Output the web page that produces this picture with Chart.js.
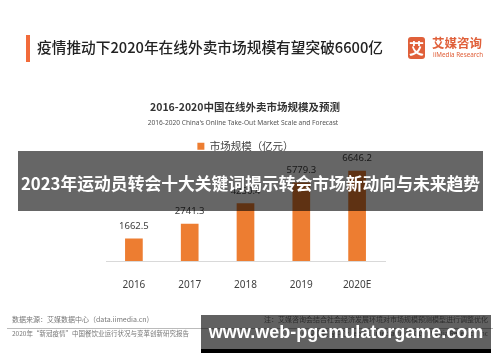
<!DOCTYPE html>
<html><head><meta charset="utf-8">
<script src="https://cdn.jsdelivr.net/npm/chart.js@4/dist/chart.umd.min.js"></script>
<style>
html,body{margin:0;padding:0;background:#fff;}
#wrap{position:relative;width:500px;height:362px;overflow:hidden;font-family:"Noto Sans CJK SC","Noto Sans",sans-serif;}
canvas{position:absolute;left:0;top:0;}
.abs{position:absolute;white-space:nowrap;}
</style></head>
<body><div id="wrap">
<canvas id="c" width="500" height="362"></canvas>
<div class="abs" style="left:26px;top:35px;width:3.5px;height:27px;background:#F26B3A"></div>
<div class="abs" style="left:37px;top:37px;font-size:14.7px;font-weight:500;color:#222;line-height:20px">疫情推动下2020年在线外卖市场规模有望突破6600亿</div>
<div class="abs" style="left:408px;top:37px;width:17px;height:22px;background:#E0603A;border-radius:3px;color:#fff;font-size:15px;font-weight:700;line-height:22px;text-align:center">艾</div>
<div class="abs" style="left:432px;top:35px;font-size:12.5px;font-weight:700;color:#E0603A;line-height:15px">艾媒咨询</div>
<div class="abs" style="left:433px;top:51px;font-size:6.3px;color:#E0603A;line-height:7px;font-family:'Noto Sans',sans-serif">iiMedia Research</div>
<div class="abs" style="left:0;width:490px;top:100px;text-align:center;font-size:10.5px;font-weight:700;color:#333;line-height:14px">2016-2020中国在线外卖市场规模及预测</div>
<div class="abs" style="left:0;width:486px;top:118px;text-align:center;font-size:6.6px;color:#555;line-height:9px;font-family:'Noto Sans',sans-serif">2016-2020 China's Online Take-Out Market Scale and Forecast</div>
<div class="abs" style="left:12px;top:314px;font-size:7px;color:#777;line-height:10px">数据来源：艾媒数据中心（data.iimedia.cn)</div>
<div class="abs" style="left:7px;top:327.5px;width:486px;height:1px;background:#bbb"></div>
<div class="abs" style="left:12px;top:329px;font-size:6.5px;color:#777;line-height:9px">2020年“新冠疫情”中国餐饮业运行状况与变革创新研究报告</div>
<div class="abs" style="right:12px;top:314px;font-size:7px;color:#777;line-height:10px">注：艾媒咨询会结合社会经济发展环境对市场规模预测模型进行调整优化</div>
<div class="abs" style="right:12px;top:329px;font-size:6.5px;color:#777;line-height:9px">© 艾媒报告中心: report.iimedia.cn ©2019 iiMedia Research Inc</div>
<div class="abs" style="left:18px;top:151px;width:465px;height:60px;background:rgba(0,0,0,0.6);color:#fff;font-size:16.8px;font-weight:700;line-height:60px;text-align:center;padding-top:2px;box-sizing:border-box">2023年运动员转会十大关键词揭示转会市场新动向与未来趋势</div>
<div class="abs" style="left:201px;top:315px;width:290px;height:34px;background:rgba(0,0,0,0.62);color:#fff;font-size:18px;font-weight:700;line-height:34px;text-align:center;font-family:'Liberation Sans',Arial,sans-serif">www.web-pgemulatorgame.com</div>
<div class="abs" style="left:201px;top:349px;width:290px;height:4px;background:#000"></div>
</div>
<script>
const categories = ["2016", "2017", "2018", "2019", "2020E"];
const marketScale = [1662.5, 2741.3, 4250.4, 5779.3, 6646.2];
const seriesName = "市场规模（亿元）";

const labelPlugin = {
  id: 'barLabels',
  afterDatasetsDraw(chart) {
    const ctx = chart.ctx;
    const meta = chart.getDatasetMeta(0);
    ctx.save();
    ctx.fillStyle = '#404040';
    ctx.font = '9.5px "Noto Sans", sans-serif';
    ctx.textAlign = 'center';
    ctx.textBaseline = 'middle';
    meta.data.forEach((bar, i) => {
      ctx.fillText(marketScale[i].toFixed(1), bar.x, bar.y - 12);
    });
    ctx.restore();
  }
};

new Chart(document.getElementById('c'), {
  type: 'bar',
  data: {
    labels: categories,
    datasets: [{
      label: seriesName,
      data: marketScale,
      backgroundColor: '#ED7D31',
      barPercentage: 1,
      categoryPercentage: 0.317
    }]
  },
  options: {
    responsive: false,
    animation: false,
    devicePixelRatio: 1,
    layout: { padding: { left: 106, right: 115, top: 134, bottom: 61 } },
    plugins: {
      legend: {
        display: true,
        position: 'top',
        labels: {
          boxWidth: 7, boxHeight: 7, padding: 7,
          color: '#404040',
          font: { size: 10.5, family: '"Noto Sans CJK SC", sans-serif' }
        }
      },
      tooltip: { enabled: false }
    },
    scales: {
      x: {
        grid: { display: false },
        border: { display: true, color: '#d9d9d9', width: 1 },
        ticks: { color: '#404040', padding: 10, font: { size: 10, family: '"Noto Sans", sans-serif' } }
      },
      y: {
        display: false,
        min: 0,
        max: 7330
      }
    }
  },
  plugins: [labelPlugin]
});
</script>
</body></html>
